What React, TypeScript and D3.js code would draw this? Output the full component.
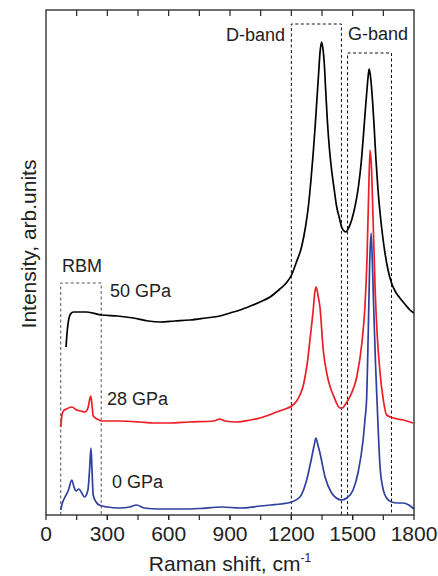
import React from "react";
import * as d3 from "d3";

// ---- data ----
const xTickLabels = [0, 300, 600, 900, 1200, 1500, 1800];

const wave0 = [72, 80, 93, 110, 126, 137, 147, 161, 175, 188, 205, 213, 220, 225, 231, 245, 260, 300, 360, 410, 443, 480, 550, 650, 750, 860, 950, 1050, 1100, 1150, 1200, 1242, 1275, 1300, 1312, 1320, 1330, 1340, 1365, 1397, 1420, 1446, 1471, 1502, 1526, 1551, 1560, 1568, 1576, 1583, 1590, 1596, 1604, 1612, 1620, 1634, 1650, 1666, 1690, 1720, 1746, 1775, 1800];
const int0 = [5, 12, 18, 25, 35, 28, 24, 26, 22, 18, 25, 45, 67, 45, 20, 13, 10, 8, 7, 8, 10, 7, 6, 6, 6.5, 8, 7, 9, 10, 11, 13, 18, 35, 58, 70, 77, 70, 62, 38, 22, 17, 15, 17, 25, 42, 75, 95, 115, 180, 250, 282, 255, 200, 150, 110, 48, 25, 17, 13, 12, 12, 10, 6];

const wave28 = [72, 78, 85, 100, 126, 150, 170, 190, 205, 213, 219, 225, 231, 250, 272, 350, 420, 460, 525, 606, 700, 820, 851, 875, 933, 1000, 1047, 1090, 1128, 1170, 1202, 1226, 1242, 1259, 1267, 1280, 1291, 1307, 1315, 1322, 1330, 1340, 1356, 1373, 1390, 1405, 1438, 1450, 1462, 1495, 1520, 1545, 1560, 1570, 1578, 1585, 1592, 1600, 1610, 1620, 1634, 1650, 1666, 1699, 1748, 1795];
const int28 = [88, 100, 104, 106, 108, 105, 104, 103, 107, 115, 119, 110, 99, 96, 94, 94, 93.5, 93, 92, 92, 93, 94, 96, 94, 93, 95, 97, 100, 103, 106, 109, 114, 120, 130, 138, 155, 175, 205, 223, 228, 220, 208, 165, 142, 128, 120, 107, 107, 110, 122, 138, 172, 208, 255, 320, 365, 347, 295, 225, 180, 142, 115, 100, 97, 95, 92];

const wave50 = [98, 102, 109, 120, 134, 165, 199, 272, 350, 427, 500, 558, 630, 704, 780, 851, 900, 949, 1000, 1047, 1096, 1144, 1175, 1201, 1225, 1250, 1270, 1283, 1296, 1307, 1316, 1324, 1333, 1340, 1348, 1354, 1360, 1368, 1376, 1386, 1397, 1410, 1422, 1435, 1446, 1458, 1467, 1480, 1495, 1512, 1528, 1542, 1552, 1562, 1571, 1577, 1581, 1588, 1598, 1606, 1614, 1624, 1634, 1646, 1658, 1673, 1690, 1710, 1731, 1755, 1780, 1800];
const int50 = [168, 180, 193, 201, 203, 203, 203, 200, 199, 197, 194, 193, 194, 195, 197, 199, 202, 205, 209, 213, 218, 226, 232, 240, 253, 268, 289, 308, 335, 362, 387, 412, 440, 462, 473, 467, 455, 425, 395, 367, 345, 325, 308, 297, 288, 284, 283, 287, 295, 309, 328, 353, 378, 405, 428, 441, 446, 437, 412, 385, 355, 325, 302, 280, 262, 245, 232, 223, 217, 211, 205, 202];

const seriesLabels = ["0 GPa", "28 GPa", "50 GPa"];
const seriesColors = ["#2f3f9e", "#ee1c24", "#000000"];

// band boxes: [start, end, top intensity]
const boxNames = ["RBM", "D-band", "G-band"];
const boxStart = [72, 1200, 1475];
const boxEnd = [270, 1445, 1690];
const boxTop = [232, 491, 462];

const FONT = "'Liberation Sans', Arial, Helvetica, sans-serif";

export default function App() {
  const W = 438, H = 576;
  const left = 46, right = 414, top = 10, bottom = 515;
  const x = d3.scaleLinear().domain([0, 1800]).range([left, right]);
  const y = d3.scaleLinear().domain([0, 505]).range([bottom, top]);

  const series = [
    wave0.map((w, i) => [w, int0[i]] as [number, number]),
    wave28.map((w, i) => [w, int28[i]] as [number, number]),
    wave50.map((w, i) => [w, int50[i]] as [number, number]),
  ];
  const line = d3
    .line<[number, number]>()
    .x((d) => x(d[0]))
    .y((d) => y(d[1]))
    .curve(d3.curveMonotoneX);

  const minor = d3.range(150, 1800, 150);

  const boxPath = (i: number) => {
    const x0 = x(boxStart[i]), x1 = x(boxEnd[i]), yt = y(boxTop[i]), yb = y(0);
    return `M${x0},${yb}V${yt}H${x1}V${yb}`;
  };

  return (
    <svg
      width={W}
      height={H}
      style={{ position: "absolute", left: 0, top: 0, background: "#fff" }}
      fontFamily={FONT}
    >
      <rect x={0} y={0} width={W} height={H} fill="#fff" />
      {boxNames.map((n, i) => (
        <path
          key={n}
          d={boxPath(i)}
          fill="none"
          stroke={i === 0 ? "#555" : "#111"}
          strokeWidth={1}
          strokeDasharray="3,2.5"
        />
      ))}
      {series.map((s, i) => (
        <path
          key={seriesLabels[i]}
          d={line(s) || ""}
          fill="none"
          stroke={seriesColors[i]}
          strokeWidth={1.7}
          strokeLinejoin="round"
        />
      ))}
      <rect
        x={left}
        y={top}
        width={right - left}
        height={bottom - top}
        fill="none"
        stroke="#222"
        strokeWidth={1.3}
      />
      {minor.map((t) => (
        <g key={t}>
          <line x1={x(t)} x2={x(t)} y1={top} y2={top + 6} stroke="#222" strokeWidth={1.2} />
          <line x1={x(t)} x2={x(t)} y1={bottom} y2={bottom + 5} stroke="#222" strokeWidth={1.2} />
        </g>
      ))}
      {xTickLabels.map((t) => (
        <g key={"l" + t}>
          <line x1={x(t)} x2={x(t)} y1={bottom} y2={bottom + 5} stroke="#222" strokeWidth={1.2} />
          <text x={x(t)} y={541} textAnchor="middle" fontSize={21} fill="#222">
            {t}
          </text>
        </g>
      ))}
      <text x={230} y={571} textAnchor="middle" fontSize={21} fill="#222">
        Raman shift, cm
        <tspan fontSize={12} dy={-9}>-1</tspan>
      </text>
      <text
        transform={`translate(36,${244}) rotate(-90)`}
        textAnchor="middle"
        fontSize={21}
        fill="#222"
      >
        Intensity, arb.units
      </text>
      <text x={285} y={41} textAnchor="end" fontSize={18} fill="#222">D-band</text>
      <text x={348} y={40} fontSize={18} fill="#222">G-band</text>
      <text x={62} y={272} fontSize={18} fill="#222">RBM</text>
      <text x={110} y={297} fontSize={18} fill="#222">50 GPa</text>
      <text x={107} y={405} fontSize={18} fill="#222">28 GPa</text>
      <text x={112} y={488} fontSize={18} fill="#222">0 GPa</text>
    </svg>
  );
}
